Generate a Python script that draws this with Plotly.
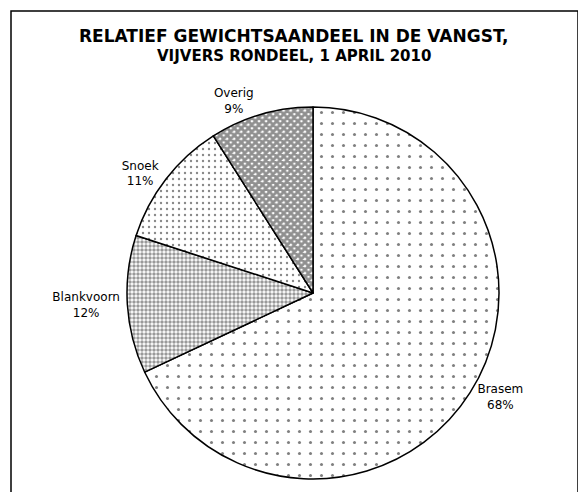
import plotly.graph_objects as go

labels = ["Brasem", "Blankvoorn", "Snoek", "Overig"]
values = [68, 12, 11, 9]
shapes_pat = [".", ".", ".", "x"]
pat_size = [11, 4, 6, 5]
pat_solid = [0.06, 0.6, 0.12, 0.8]
pat_fg = ["#000000", "#333333", "#111111", "#222222"]

W, H = 586, 492
OFF = 8  # page body margin offset
cx, cy, R = 313 - OFF, 293 - OFF, 186

fig = go.Figure(go.Pie(
    labels=labels, values=values, sort=False, direction="clockwise", rotation=0,
    textposition="outside", texttemplate="%{label}<br>%{percent:.0%}",
    textfont=dict(family="DejaVu Sans", size=12, color="black"),
    marker=dict(colors=["white"] * 4,
                line=dict(color="black", width=1.5),
                pattern=dict(shape=shapes_pat, size=pat_size, solidity=pat_solid,
                             fgcolor=pat_fg, bgcolor="white", fillmode="overlay")),
    domain=dict(x=[(cx - R) / W, (cx + R) / W], y=[(H - cy - R) / H, (H - cy + R) / H]),
    showlegend=False, hoverinfo="skip",
))

fig.update_layout(
    width=W, height=H, margin=dict(l=0, r=0, t=0, b=0),
    paper_bgcolor="white", plot_bgcolor="white",
    shapes=[dict(type="rect", xref="paper", yref="paper",
                 x0=(11 - OFF) / W, x1=(578 - OFF) / W, y0=-0.2, y1=1 - (11 - OFF) / H,
                 line=dict(color="black", width=1.5))],
    annotations=[
        dict(text="<b>RELATIEF GEWICHTSAANDEEL IN DE VANGST,</b>", x=(294 - OFF) / W,
             y=1 - (36 - OFF) / H,
             xref="paper", yref="paper", showarrow=False, xanchor="center", yanchor="middle",
             font=dict(family="DejaVu Sans", size=17, color="black")),
        dict(text="<b>VIJVERS RONDEEL, 1 APRIL 2010</b>", x=(294 - OFF) / W,
             y=1 - (56 - OFF) / H,
             xref="paper", yref="paper", showarrow=False, xanchor="center", yanchor="middle",
             font=dict(family="DejaVu Sans", size=15, color="black")),
    ],
)

fig.write_html("out.html")
